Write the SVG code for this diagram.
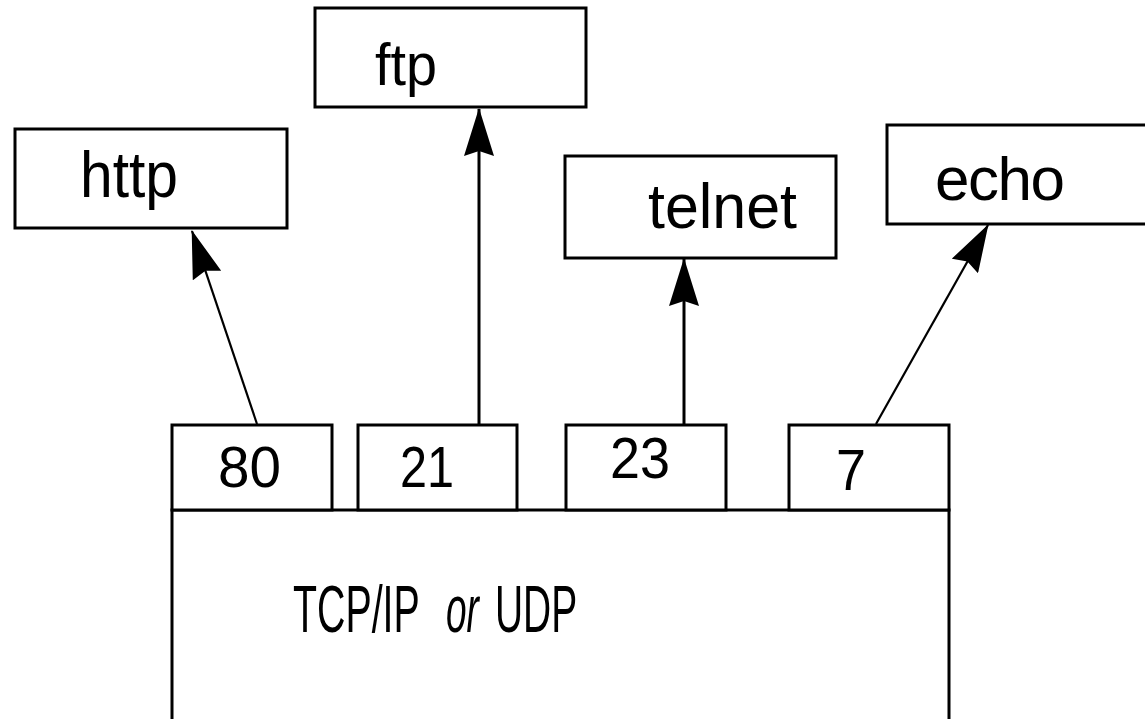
<svg xmlns="http://www.w3.org/2000/svg" width="1145" height="719" viewBox="0 0 1145 719">
<defs>
<style>
.box{fill:#fff;stroke:#000;stroke-width:3}
.lbl{font-family:"Liberation Sans",Arial,sans-serif;fill:#000;font-size:62px}
.port{font-family:"Liberation Sans",Arial,sans-serif;fill:#000;font-size:58px}
.conn{stroke:#000;fill:none}
</style>
<marker id="ah" markerUnits="userSpaceOnUse" viewBox="0 0 48 30" refX="47" refY="15" markerWidth="48" markerHeight="30" orient="auto">
<path d="M0,0 L48,15 L0,30 L5,15 z" fill="#000"/>
</marker>
</defs>
<rect width="1145" height="719" fill="#fff"/>
<g id="tcp">
<path class="box" d="M172,730 L172,510 L949,510 L949,730"/>
<text class="lbl" transform="translate(293,632) scale(0.596,1)" style="font-size:66px">TCP/IP</text>
<text class="lbl" transform="translate(446,632) scale(0.56,1)" style="font-size:66px;font-style:italic">or</text>
<text class="lbl" transform="translate(495,632) scale(0.59,1)" style="font-size:66px">UDP</text>
</g>
<g id="p80"><rect class="box" x="172" y="425" width="160" height="85"/><text class="port" x="218" y="487" textLength="63" lengthAdjust="spacingAndGlyphs">80</text></g>
<g id="p21"><rect class="box" x="358" y="425" width="159" height="85"/><text class="port" x="400" y="487" textLength="54" lengthAdjust="spacingAndGlyphs">21</text></g>
<g id="p23"><rect class="box" x="566" y="425" width="160" height="85"/><text class="port" x="610" y="478" textLength="60" lengthAdjust="spacingAndGlyphs">23</text></g>
<g id="p7"><rect class="box" x="789" y="425" width="160" height="85"/><text class="port" x="836" y="490" textLength="30" lengthAdjust="spacingAndGlyphs">7</text></g>
<g id="http"><rect class="box" x="15" y="129" width="272" height="99"/><text class="lbl" x="80" y="197" style="font-size:65px" textLength="98" lengthAdjust="spacingAndGlyphs">http</text></g>
<g id="ftp"><rect class="box" x="315" y="8" width="271" height="99"/><text class="lbl" x="375" y="85" style="font-size:60px" textLength="62" lengthAdjust="spacingAndGlyphs">ftp</text></g>
<g id="telnet"><rect class="box" x="565" y="156" width="271" height="102"/><text class="lbl" x="648" y="228" style="font-size:63px" textLength="149" lengthAdjust="spacingAndGlyphs">telnet</text></g>
<g id="echo"><rect class="box" x="887" y="125" width="300" height="99"/><text class="lbl" x="935" y="200" style="font-size:62px" textLength="130" lengthAdjust="spacing">echo</text></g>
<g id="connectors">
<line class="conn" stroke-width="2.2" x1="257" y1="424" x2="192" y2="231" marker-end="url(#ah)"/>
<line class="conn" stroke-width="3" x1="479" y1="424" x2="479" y2="109" marker-end="url(#ah)"/>
<line class="conn" stroke-width="3" x1="684" y1="424" x2="684" y2="259" marker-end="url(#ah)"/>
<line class="conn" stroke-width="2.2" x1="876" y1="424" x2="988" y2="225" marker-end="url(#ah)"/>
</g>
</svg>
